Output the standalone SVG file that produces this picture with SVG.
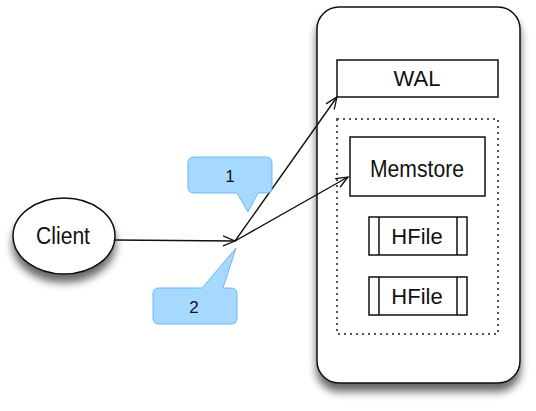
<svg xmlns="http://www.w3.org/2000/svg" width="536" height="411" viewBox="0 0 536 411">
<defs>
<filter id="sh" x="-30%" y="-30%" width="160%" height="160%">
<feGaussianBlur in="SourceAlpha" stdDeviation="4"/>
<feOffset dx="0" dy="8" result="b"/>
<feComponentTransfer><feFuncA type="linear" slope="0.6"/></feComponentTransfer>
<feMerge><feMergeNode/><feMergeNode in="SourceGraphic"/></feMerge>
</filter>
<marker id="arr" markerWidth="14" markerHeight="12" refX="13" refY="6" orient="auto" markerUnits="userSpaceOnUse">
<path d="M1,1 L13,6 L1,11" fill="none" stroke="#111" stroke-width="1.3"/>
</marker>
<style>
.box{fill:#fff;stroke:#111;stroke-width:1.5}
.t{font-family:"Liberation Sans",Arial,sans-serif;fill:#111;text-anchor:middle}
.call{fill:#a6d9ff;stroke:#6fb5f0;stroke-width:1}
.conn{stroke:#111;stroke-width:1.4;fill:none}
</style>
</defs>
<g id="server">
<rect x="317" y="7" width="203" height="376" rx="22" class="box" stroke-width="2" filter="url(#sh)"/>
</g>
<g id="store">
<rect x="337" y="119" width="161" height="215" fill="none" stroke="#555" stroke-width="2" stroke-dasharray="2,4"/>
</g>
<g id="wal">
<rect x="337" y="60" width="161" height="37" class="box"/>
<text x="417" y="86" class="t" font-size="22">WAL</text>
</g>
<g id="memstore">
<rect x="350" y="137" width="135" height="59" class="box"/>
<text x="417" y="177" class="t" font-size="23" textLength="94" lengthAdjust="spacingAndGlyphs">Memstore</text>
</g>
<g id="hfile1">
<rect x="369" y="217" width="98" height="38" class="box"/>
<line x1="379" y1="217" x2="379" y2="255" stroke="#111" stroke-width="1.5"/>
<line x1="457" y1="217" x2="457" y2="255" stroke="#111" stroke-width="1.5"/>
<text x="417" y="244" class="t" font-size="22">HFile</text>
</g>
<g id="hfile2">
<rect x="369" y="277" width="98" height="38" class="box"/>
<line x1="379" y1="277" x2="379" y2="315" stroke="#111" stroke-width="1.5"/>
<line x1="457" y1="277" x2="457" y2="315" stroke="#111" stroke-width="1.5"/>
<text x="417" y="304" class="t" font-size="22">HFile</text>
</g>
<g id="client">
<ellipse cx="64" cy="236" rx="51" ry="38" class="box" filter="url(#sh)"/>
<text x="63" y="244" class="t" font-size="23" textLength="54" lengthAdjust="spacingAndGlyphs">Client</text>
</g>
<g id="connectors">
<line x1="115" y1="240" x2="235" y2="241" class="conn" marker-end="url(#arr)"/>
<line x1="235" y1="241" x2="337" y2="97" class="conn" marker-end="url(#arr)"/>
<line x1="235" y1="241" x2="348" y2="177" class="conn" marker-end="url(#arr)"/>
</g>
<g id="callout1">
<path d="M194,157 H266 Q272,157 272,163 V187 Q272,193 266,193 H258 L248,212 L237,193 H194 Q188,193 188,187 V163 Q188,157 194,157 Z" class="call"/>
<text x="230" y="182" class="t" font-size="17">1</text>
</g>
<g id="callout2">
<path d="M159,288 H202 L236,248 L223,288 H231 Q237,288 237,294 V318 Q237,324 231,324 H159 Q153,324 153,318 V294 Q153,288 159,288 Z" class="call"/>
<text x="194" y="313" class="t" font-size="17">2</text>
</g>
</svg>
